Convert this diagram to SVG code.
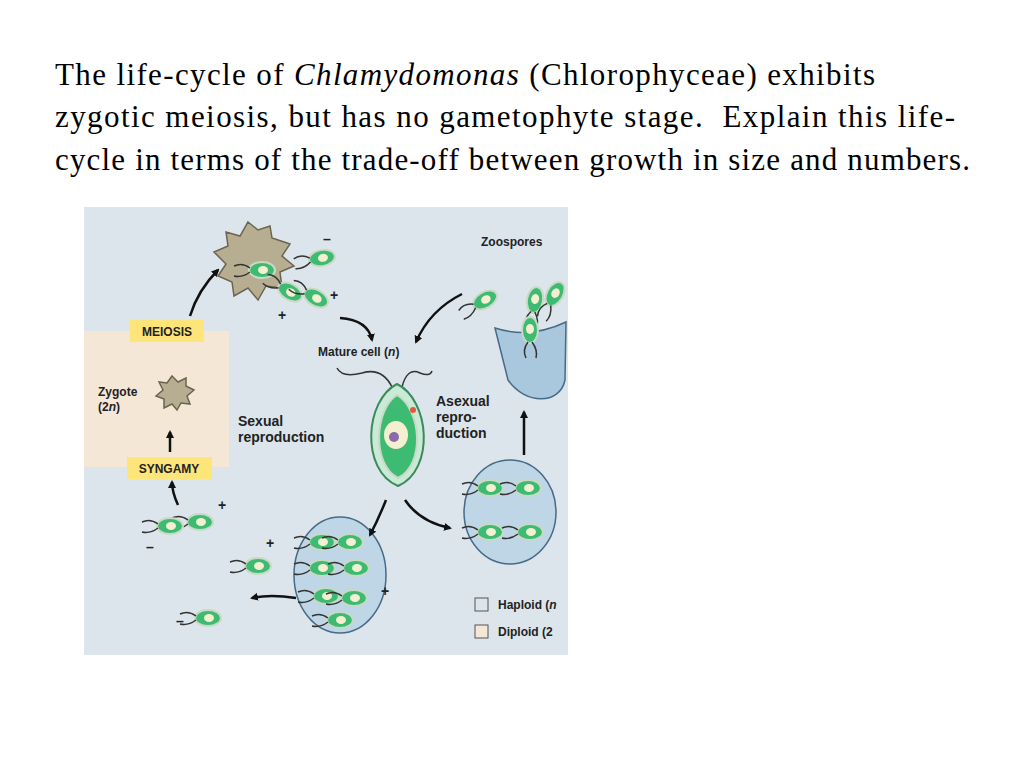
<svg xmlns="http://www.w3.org/2000/svg" width="1024" height="768" viewBox="0 0 1024 768">
<style>
.t{font-family:"Liberation Serif",serif;font-size:31px;fill:#000}
.l{font-family:"Liberation Sans",Arial,sans-serif;font-size:14px;font-weight:bold;fill:#222}
.s{font-family:"Liberation Sans",Arial,sans-serif;font-size:12px;font-weight:bold;fill:#222}
.cell{fill:#3dbb73;stroke:#c8d9c4;stroke-width:2}
.nuc{fill:#f3efd0}
.fl{fill:none;stroke:#333;stroke-width:1.5}
.arr{fill:none;stroke:#111;stroke-width:2.5;marker-end:url(#ah)}
.sp{fill:#b7ae92;stroke:#6b6450;stroke-width:1.5}
.wall{fill:#a9c8dd;stroke:#476a86;stroke-width:1.5}
</style>
<defs>
<marker id="ah" markerWidth="8" markerHeight="8" refX="6" refY="4" orient="auto" markerUnits="userSpaceOnUse"><path d="M0,0 L8,4 L0,8 Z" fill="#111"/></marker>
<g id="c"><ellipse class="cell" cx="0" cy="0" rx="13" ry="8"/><ellipse class="nuc" cx="1" cy="0" rx="5" ry="4"/><path class="fl" d="M-12,-2 q-8,-6 -16,-2 M-12,2 q-8,6 -16,4"/></g>
</defs>
<rect width="1024" height="768" fill="#fff"/>
<text class="t" x="55" y="85" textLength="820" lengthAdjust="spacing">The life-cycle of <tspan font-style="italic">Chlamydomonas</tspan> (Chlorophyceae) exhibits</text>
<text class="t" x="55" y="127" textLength="900" lengthAdjust="spacing">zygotic meiosis, but has no gametophyte stage.&#160; Explain this life-</text>
<text class="t" x="55" y="170" textLength="915" lengthAdjust="spacing">cycle in terms of the trade-off between growth in size and numbers.</text>
<g id="panel">
<rect x="84" y="207" width="484" height="448" fill="#dce5ec"/>
<rect x="84" y="331" width="145" height="136" fill="#f5e7d6"/>
</g>
<g id="meiosis"><rect x="130" y="320" width="74" height="22" fill="#fde57a"/><text class="s" x="167" y="336" text-anchor="middle">MEIOSIS</text></g>
<g id="syngamy"><rect x="127" y="457" width="85" height="22" fill="#fde57a"/><text class="s" x="169" y="473" text-anchor="middle">SYNGAMY</text></g>
<g id="zygote"><text class="s" x="98" y="396">Zygote</text><text class="s" x="98" y="411">(2<tspan font-style="italic">n</tspan>)</text>
<polygon class="sp" points="172,376 178,382 186,378 186,386 194,390 187,396 190,404 181,403 177,410 172,404 164,408 164,399 156,396 163,390 159,382 167,383"/></g>
<g id="spore"><polygon class="sp" points="248,222 258,230 270,226 272,238 290,244 282,256 294,266 280,272 282,288 266,286 258,300 248,288 234,296 232,282 218,276 226,264 214,252 228,246 226,232 240,236"/>
<use href="#c" x="262" y="270"/></g>
<g id="gametes-top"><use href="#c" x="322" y="258" transform="rotate(-10 322 258)"/><use href="#c" x="290" y="292" transform="rotate(30 290 292)"/><use href="#c" x="316" y="298" transform="rotate(30 316 298)"/>
<text class="l" x="323" y="244">–</text><text class="l" x="330" y="300">+</text><text class="l" x="278" y="320">+</text></g>
<g id="mature"><text class="s" x="318" y="356">Mature cell (<tspan font-style="italic">n</tspan>)</text>
<path class="fl" d="M392,387 q-10,-20 -30,-14 q-20,5 -25,-5 M402,387 q5,-20 18,-14 q10,4 12,-2"/>
<path d="M397,384 C430,400 435,470 398,486 C360,470 365,400 397,384Z" fill="#c9ead6" stroke="#3a8a5a" stroke-width="2"/>
<path d="M397,395 C422,410 425,465 398,478 C372,465 374,410 397,395Z" class="cell"/>
<ellipse cx="396" cy="435" rx="12" ry="14" fill="#f3efd0"/><circle cx="394" cy="437" r="5" fill="#8b6aa8"/><circle cx="413" cy="410" r="3" fill="#e05a3a"/></g>
<g id="labels"><text class="l" x="238" y="426">Sexual</text><text class="l" x="238" y="442">reproduction</text>
<text class="l" x="436" y="406">Asexual</text><text class="l" x="436" y="422">repro-</text><text class="l" x="436" y="438">duction</text>
<text class="s" x="481" y="246">Zoospores</text></g>
<g id="zoosporangium"><path d="M495,328 C520,336 545,332 566,322 L565,380 C560,405 525,405 508,380 Z" class="wall"/>
<use href="#c" x="535" y="300" transform="rotate(-80 535 300)"/><use href="#c" x="485" y="300" transform="rotate(-30 485 300)"/><use href="#c" x="555" y="294" transform="rotate(-60 555 294)"/><use href="#c" x="530" y="330" transform="rotate(-90 530 330)"/></g>
<g id="asexual-sac"><ellipse cx="510" cy="512" rx="46" ry="52" fill="#bfd6e6" stroke="#476a86" stroke-width="1.5"/>
<use href="#c" x="490" y="488"/><use href="#c" x="528" y="488"/><use href="#c" x="490" y="532"/><use href="#c" x="530" y="532"/></g>
<g id="sexual-sac"><ellipse cx="340" cy="575" rx="46" ry="58" fill="#bfd6e6" stroke="#476a86" stroke-width="1.5"/>
<use href="#c" x="322" y="542"/><use href="#c" x="350" y="542"/><use href="#c" x="322" y="568"/><use href="#c" x="356" y="568"/><use href="#c" x="326" y="596"/><use href="#c" x="354" y="598"/><use href="#c" x="340" y="620"/><text class="l" x="381" y="596">+</text></g>
<g id="gametes-bottom"><use href="#c" x="200" y="522"/><use href="#c" x="170" y="526"/><use href="#c" x="258" y="566"/><use href="#c" x="208" y="618"/>
<text class="l" x="218" y="510">+</text><text class="l" x="146" y="552">–</text><text class="l" x="266" y="548">+</text><text class="l" x="176" y="626">–</text></g>
<g id="legend"><rect x="475" y="598" width="13" height="13" fill="#dce5ec" stroke="#555"/><text class="s" x="498" y="609">Haploid (<tspan font-style="italic">n</tspan></text>
<rect x="475" y="625" width="13" height="13" fill="#f5e7d6" stroke="#555"/><text class="s" x="498" y="636">Diploid (2</text></g>
<g id="connectors">
<path class="arr" d="M190,316 Q198,290 218,270"/>
<path class="arr" d="M340,318 Q368,320 372,340"/>
<path class="arr" d="M462,294 Q430,310 416,342"/>
<path class="arr" d="M524,455 L524,412"/>
<path class="arr" d="M405,500 Q420,522 450,528"/>
<path class="arr" d="M386,500 Q378,520 370,535"/>
<path class="arr" d="M296,598 Q270,594 252,598"/>
<path class="arr" d="M178,505 Q172,492 172,482"/>
<path class="arr" d="M170,452 L170,432"/>
</g>
</svg>
